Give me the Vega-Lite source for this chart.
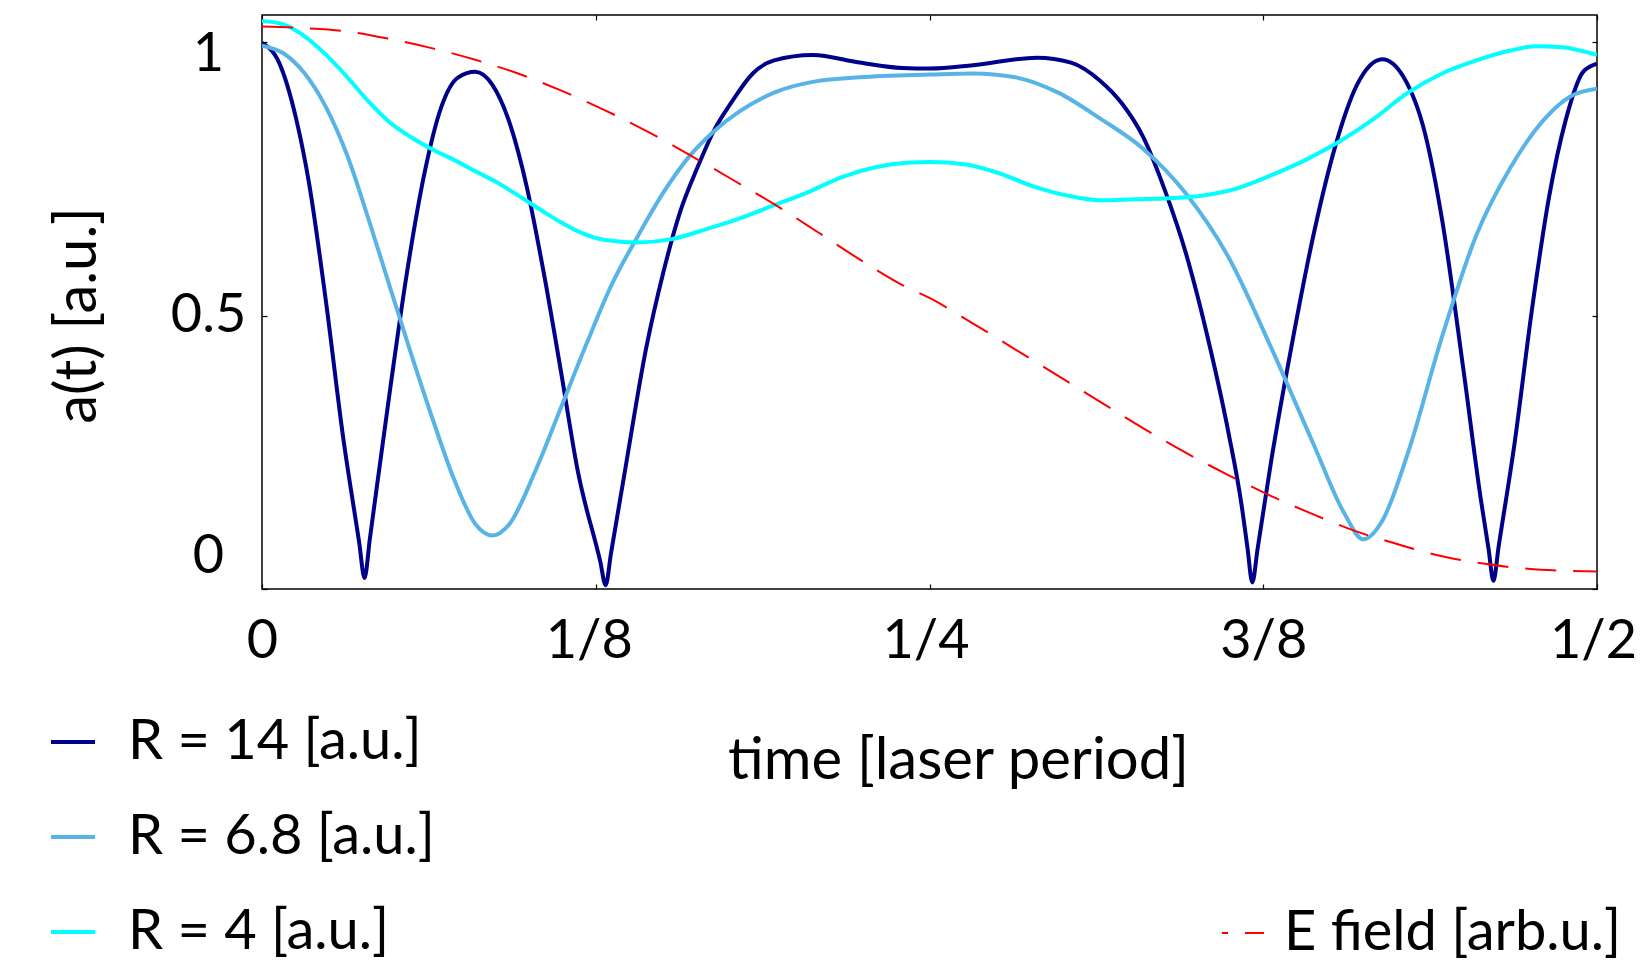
{
  "$schema": "https://vega.github.io/schema/vega-lite/v6.json",
  "width": 1335,
  "height": 574,
  "autosize": {"type": "none"},
  "padding": {"left": 262, "top": 15, "right": 47, "bottom": 391},
  "background": "white",
  "config": {
    "view": {"stroke": "black", "strokeWidth": 1.5},
    "font": "Lato",
    "axis": {
      "grid": false,
      "domain": false,
      "labelFont": "Lato",
      "titleFont": "Lato",
      "labelColor": "black",
      "titleColor": "black",
      "tickColor": "black",
      "tickSize": -5,
      "tickWidth": 1.2,
      "labelFontSize": 54,
      "titleFontSize": 58,
      "titleFontWeight": "normal"
    },
    "legend": {
      "labelFont": "Lato",
      "labelFontSize": 56,
      "labelColor": "black",
      "labelLimit": 0,
      "padding": 0,
      "symbolType": "stroke"
    }
  },
  "datasets": {
    "R": [
      {"series": "R = 14 [a.u.]", "t": 0, "value": 0.999},
      {"series": "R = 14 [a.u.]", "t": 0.0064, "value": 0.963},
      {"series": "R = 14 [a.u.]", "t": 0.0128, "value": 0.86},
      {"series": "R = 14 [a.u.]", "t": 0.0176, "value": 0.743},
      {"series": "R = 14 [a.u.]", "t": 0.024, "value": 0.524},
      {"series": "R = 14 [a.u.]", "t": 0.0304, "value": 0.277},
      {"series": "R = 14 [a.u.]", "t": 0.0364, "value": 0.085},
      {"series": "R = 14 [a.u.]", "t": 0.0384, "value": 0.02},
      {"series": "R = 14 [a.u.]", "t": 0.0404, "value": 0.092},
      {"series": "R = 14 [a.u.]", "t": 0.048, "value": 0.366},
      {"series": "R = 14 [a.u.]", "t": 0.0543, "value": 0.579},
      {"series": "R = 14 [a.u.]", "t": 0.0607, "value": 0.757},
      {"series": "R = 14 [a.u.]", "t": 0.0671, "value": 0.881},
      {"series": "R = 14 [a.u.]", "t": 0.0735, "value": 0.936},
      {"series": "R = 14 [a.u.]", "t": 0.0799, "value": 0.946},
      {"series": "R = 14 [a.u.]", "t": 0.0863, "value": 0.922},
      {"series": "R = 14 [a.u.]", "t": 0.0927, "value": 0.853},
      {"series": "R = 14 [a.u.]", "t": 0.0991, "value": 0.737},
      {"series": "R = 14 [a.u.]", "t": 0.1055, "value": 0.579},
      {"series": "R = 14 [a.u.]", "t": 0.1119, "value": 0.4},
      {"series": "R = 14 [a.u.]", "t": 0.1183, "value": 0.215},
      {"series": "R = 14 [a.u.]", "t": 0.1267, "value": 0.05},
      {"series": "R = 14 [a.u.]", "t": 0.1287, "value": 0.007},
      {"series": "R = 14 [a.u.]", "t": 0.1307, "value": 0.065},
      {"series": "R = 14 [a.u.]", "t": 0.1359, "value": 0.215},
      {"series": "R = 14 [a.u.]", "t": 0.1439, "value": 0.441},
      {"series": "R = 14 [a.u.]", "t": 0.1503, "value": 0.579},
      {"series": "R = 14 [a.u.]", "t": 0.1566, "value": 0.69},
      {"series": "R = 14 [a.u.]", "t": 0.163, "value": 0.77},
      {"series": "R = 14 [a.u.]", "t": 0.1694, "value": 0.84},
      {"series": "R = 14 [a.u.]", "t": 0.1758, "value": 0.89},
      {"series": "R = 14 [a.u.]", "t": 0.1838, "value": 0.943},
      {"series": "R = 14 [a.u.]", "t": 0.1918, "value": 0.967},
      {"series": "R = 14 [a.u.]", "t": 0.2062, "value": 0.977},
      {"series": "R = 14 [a.u.]", "t": 0.2238, "value": 0.963},
      {"series": "R = 14 [a.u.]", "t": 0.2398, "value": 0.953},
      {"series": "R = 14 [a.u.]", "t": 0.2502, "value": 0.952},
      {"series": "R = 14 [a.u.]", "t": 0.2662, "value": 0.958},
      {"series": "R = 14 [a.u.]", "t": 0.2902, "value": 0.972},
      {"series": "R = 14 [a.u.]", "t": 0.303, "value": 0.963},
      {"series": "R = 14 [a.u.]", "t": 0.3141, "value": 0.929},
      {"series": "R = 14 [a.u.]", "t": 0.3221, "value": 0.888},
      {"series": "R = 14 [a.u.]", "t": 0.3301, "value": 0.826},
      {"series": "R = 14 [a.u.]", "t": 0.3381, "value": 0.73},
      {"series": "R = 14 [a.u.]", "t": 0.3461, "value": 0.613},
      {"series": "R = 14 [a.u.]", "t": 0.3541, "value": 0.462},
      {"series": "R = 14 [a.u.]", "t": 0.3621, "value": 0.283},
      {"series": "R = 14 [a.u.]", "t": 0.3669, "value": 0.153},
      {"series": "R = 14 [a.u.]", "t": 0.3691, "value": 0.075},
      {"series": "R = 14 [a.u.]", "t": 0.3709, "value": 0.012},
      {"series": "R = 14 [a.u.]", "t": 0.3729, "value": 0.074},
      {"series": "R = 14 [a.u.]", "t": 0.378, "value": 0.235},
      {"series": "R = 14 [a.u.]", "t": 0.386, "value": 0.455},
      {"series": "R = 14 [a.u.]", "t": 0.3941, "value": 0.654},
      {"series": "R = 14 [a.u.]", "t": 0.4021, "value": 0.812},
      {"series": "R = 14 [a.u.]", "t": 0.4101, "value": 0.922},
      {"series": "R = 14 [a.u.]", "t": 0.4196, "value": 0.969},
      {"series": "R = 14 [a.u.]", "t": 0.4276, "value": 0.936},
      {"series": "R = 14 [a.u.]", "t": 0.4356, "value": 0.833},
      {"series": "R = 14 [a.u.]", "t": 0.442, "value": 0.675},
      {"series": "R = 14 [a.u.]", "t": 0.45, "value": 0.4},
      {"series": "R = 14 [a.u.]", "t": 0.4564, "value": 0.167},
      {"series": "R = 14 [a.u.]", "t": 0.4594, "value": 0.073},
      {"series": "R = 14 [a.u.]", "t": 0.4612, "value": 0.015},
      {"series": "R = 14 [a.u.]", "t": 0.4632, "value": 0.079},
      {"series": "R = 14 [a.u.]", "t": 0.4692, "value": 0.269},
      {"series": "R = 14 [a.u.]", "t": 0.4756, "value": 0.51},
      {"series": "R = 14 [a.u.]", "t": 0.482, "value": 0.716},
      {"series": "R = 14 [a.u.]", "t": 0.4884, "value": 0.86},
      {"series": "R = 14 [a.u.]", "t": 0.4948, "value": 0.946},
      {"series": "R = 14 [a.u.]", "t": 0.5, "value": 0.961},

      {"series": "R = 6.8 [a.u.]", "t": 0, "value": 0.994},
      {"series": "R = 6.8 [a.u.]", "t": 0.008, "value": 0.98},
      {"series": "R = 6.8 [a.u.]", "t": 0.016, "value": 0.943},
      {"series": "R = 6.8 [a.u.]", "t": 0.024, "value": 0.881},
      {"series": "R = 6.8 [a.u.]", "t": 0.032, "value": 0.792},
      {"series": "R = 6.8 [a.u.]", "t": 0.04, "value": 0.675},
      {"series": "R = 6.8 [a.u.]", "t": 0.048, "value": 0.551},
      {"series": "R = 6.8 [a.u.]", "t": 0.056, "value": 0.428},
      {"series": "R = 6.8 [a.u.]", "t": 0.0639, "value": 0.311},
      {"series": "R = 6.8 [a.u.]", "t": 0.0719, "value": 0.201},
      {"series": "R = 6.8 [a.u.]", "t": 0.0799, "value": 0.119},
      {"series": "R = 6.8 [a.u.]", "t": 0.0863, "value": 0.098},
      {"series": "R = 6.8 [a.u.]", "t": 0.0927, "value": 0.119},
      {"series": "R = 6.8 [a.u.]", "t": 0.1023, "value": 0.215},
      {"series": "R = 6.8 [a.u.]", "t": 0.1119, "value": 0.331},
      {"series": "R = 6.8 [a.u.]", "t": 0.1215, "value": 0.448},
      {"series": "R = 6.8 [a.u.]", "t": 0.1311, "value": 0.558},
      {"series": "R = 6.8 [a.u.]", "t": 0.1407, "value": 0.645},
      {"series": "R = 6.8 [a.u.]", "t": 0.1503, "value": 0.725},
      {"series": "R = 6.8 [a.u.]", "t": 0.1598, "value": 0.79},
      {"series": "R = 6.8 [a.u.]", "t": 0.1694, "value": 0.838},
      {"series": "R = 6.8 [a.u.]", "t": 0.179, "value": 0.874},
      {"series": "R = 6.8 [a.u.]", "t": 0.1918, "value": 0.908},
      {"series": "R = 6.8 [a.u.]", "t": 0.2078, "value": 0.929},
      {"series": "R = 6.8 [a.u.]", "t": 0.2238, "value": 0.936},
      {"series": "R = 6.8 [a.u.]", "t": 0.2502, "value": 0.941},
      {"series": "R = 6.8 [a.u.]", "t": 0.2662, "value": 0.943},
      {"series": "R = 6.8 [a.u.]", "t": 0.2822, "value": 0.936},
      {"series": "R = 6.8 [a.u.]", "t": 0.2982, "value": 0.908},
      {"series": "R = 6.8 [a.u.]", "t": 0.3141, "value": 0.86},
      {"series": "R = 6.8 [a.u.]", "t": 0.3301, "value": 0.805},
      {"series": "R = 6.8 [a.u.]", "t": 0.3461, "value": 0.723},
      {"series": "R = 6.8 [a.u.]", "t": 0.3621, "value": 0.606},
      {"series": "R = 6.8 [a.u.]", "t": 0.378, "value": 0.441},
      {"series": "R = 6.8 [a.u.]", "t": 0.394, "value": 0.263},
      {"series": "R = 6.8 [a.u.]", "t": 0.4053, "value": 0.139},
      {"series": "R = 6.8 [a.u.]", "t": 0.4124, "value": 0.091},
      {"series": "R = 6.8 [a.u.]", "t": 0.4196, "value": 0.125},
      {"series": "R = 6.8 [a.u.]", "t": 0.4292, "value": 0.249},
      {"series": "R = 6.8 [a.u.]", "t": 0.442, "value": 0.462},
      {"series": "R = 6.8 [a.u.]", "t": 0.4548, "value": 0.647},
      {"series": "R = 6.8 [a.u.]", "t": 0.4676, "value": 0.771},
      {"series": "R = 6.8 [a.u.]", "t": 0.4804, "value": 0.86},
      {"series": "R = 6.8 [a.u.]", "t": 0.49, "value": 0.901},
      {"series": "R = 6.8 [a.u.]", "t": 0.5, "value": 0.915},

      {"series": "R = 4 [a.u.]", "t": 0, "value": 1.039},
      {"series": "R = 4 [a.u.]", "t": 0.008, "value": 1.033},
      {"series": "R = 4 [a.u.]", "t": 0.016, "value": 1.011},
      {"series": "R = 4 [a.u.]", "t": 0.024, "value": 0.977},
      {"series": "R = 4 [a.u.]", "t": 0.032, "value": 0.936},
      {"series": "R = 4 [a.u.]", "t": 0.04, "value": 0.891},
      {"series": "R = 4 [a.u.]", "t": 0.048, "value": 0.853},
      {"series": "R = 4 [a.u.]", "t": 0.056, "value": 0.826},
      {"series": "R = 4 [a.u.]", "t": 0.0639, "value": 0.804},
      {"series": "R = 4 [a.u.]", "t": 0.0719, "value": 0.785},
      {"series": "R = 4 [a.u.]", "t": 0.0799, "value": 0.764},
      {"series": "R = 4 [a.u.]", "t": 0.0879, "value": 0.744},
      {"series": "R = 4 [a.u.]", "t": 0.0959, "value": 0.72},
      {"series": "R = 4 [a.u.]", "t": 0.1039, "value": 0.695},
      {"series": "R = 4 [a.u.]", "t": 0.1119, "value": 0.671},
      {"series": "R = 4 [a.u.]", "t": 0.1199, "value": 0.651},
      {"series": "R = 4 [a.u.]", "t": 0.1279, "value": 0.639},
      {"series": "R = 4 [a.u.]", "t": 0.1407, "value": 0.634},
      {"series": "R = 4 [a.u.]", "t": 0.1535, "value": 0.64},
      {"series": "R = 4 [a.u.]", "t": 0.1662, "value": 0.658},
      {"series": "R = 4 [a.u.]", "t": 0.179, "value": 0.678},
      {"series": "R = 4 [a.u.]", "t": 0.1918, "value": 0.702},
      {"series": "R = 4 [a.u.]", "t": 0.2046, "value": 0.726},
      {"series": "R = 4 [a.u.]", "t": 0.2174, "value": 0.754},
      {"series": "R = 4 [a.u.]", "t": 0.2302, "value": 0.772},
      {"series": "R = 4 [a.u.]", "t": 0.243, "value": 0.78},
      {"series": "R = 4 [a.u.]", "t": 0.2502, "value": 0.781},
      {"series": "R = 4 [a.u.]", "t": 0.263, "value": 0.777},
      {"series": "R = 4 [a.u.]", "t": 0.2758, "value": 0.761},
      {"series": "R = 4 [a.u.]", "t": 0.2886, "value": 0.737},
      {"series": "R = 4 [a.u.]", "t": 0.3013, "value": 0.72},
      {"series": "R = 4 [a.u.]", "t": 0.3141, "value": 0.711},
      {"series": "R = 4 [a.u.]", "t": 0.3269, "value": 0.713},
      {"series": "R = 4 [a.u.]", "t": 0.3397, "value": 0.715},
      {"series": "R = 4 [a.u.]", "t": 0.3525, "value": 0.72},
      {"series": "R = 4 [a.u.]", "t": 0.3653, "value": 0.733},
      {"series": "R = 4 [a.u.]", "t": 0.3781, "value": 0.757},
      {"series": "R = 4 [a.u.]", "t": 0.3909, "value": 0.785},
      {"series": "R = 4 [a.u.]", "t": 0.4037, "value": 0.819},
      {"series": "R = 4 [a.u.]", "t": 0.4164, "value": 0.86},
      {"series": "R = 4 [a.u.]", "t": 0.4292, "value": 0.908},
      {"series": "R = 4 [a.u.]", "t": 0.442, "value": 0.943},
      {"series": "R = 4 [a.u.]", "t": 0.4548, "value": 0.967},
      {"series": "R = 4 [a.u.]", "t": 0.4676, "value": 0.985},
      {"series": "R = 4 [a.u.]", "t": 0.4772, "value": 0.993},
      {"series": "R = 4 [a.u.]", "t": 0.4868, "value": 0.991},
      {"series": "R = 4 [a.u.]", "t": 0.5, "value": 0.977}
    ],
    "E": [
      {"series": "E field [arb.u.]", "t": 0, "value": 1.029},
      {"series": "E field [arb.u.]", "t": 0.016, "value": 1.026},
      {"series": "E field [arb.u.]", "t": 0.032, "value": 1.02},
      {"series": "E field [arb.u.]", "t": 0.048, "value": 1.006},
      {"series": "E field [arb.u.]", "t": 0.0639, "value": 0.989},
      {"series": "E field [arb.u.]", "t": 0.0799, "value": 0.968},
      {"series": "E field [arb.u.]", "t": 0.0959, "value": 0.943},
      {"series": "E field [arb.u.]", "t": 0.1119, "value": 0.912},
      {"series": "E field [arb.u.]", "t": 0.1279, "value": 0.877},
      {"series": "E field [arb.u.]", "t": 0.1439, "value": 0.838},
      {"series": "E field [arb.u.]", "t": 0.1598, "value": 0.795},
      {"series": "E field [arb.u.]", "t": 0.1758, "value": 0.75},
      {"series": "E field [arb.u.]", "t": 0.1918, "value": 0.704},
      {"series": "E field [arb.u.]", "t": 0.2078, "value": 0.654},
      {"series": "E field [arb.u.]", "t": 0.2238, "value": 0.603},
      {"series": "E field [arb.u.]", "t": 0.2398, "value": 0.556},
      {"series": "E field [arb.u.]", "t": 0.2502, "value": 0.532},
      {"series": "E field [arb.u.]", "t": 0.2662, "value": 0.486},
      {"series": "E field [arb.u.]", "t": 0.2822, "value": 0.438},
      {"series": "E field [arb.u.]", "t": 0.2982, "value": 0.39},
      {"series": "E field [arb.u.]", "t": 0.3141, "value": 0.342},
      {"series": "E field [arb.u.]", "t": 0.3301, "value": 0.294},
      {"series": "E field [arb.u.]", "t": 0.3461, "value": 0.249},
      {"series": "E field [arb.u.]", "t": 0.3621, "value": 0.208},
      {"series": "E field [arb.u.]", "t": 0.378, "value": 0.17},
      {"series": "E field [arb.u.]", "t": 0.394, "value": 0.136},
      {"series": "E field [arb.u.]", "t": 0.4101, "value": 0.105},
      {"series": "E field [arb.u.]", "t": 0.426, "value": 0.081},
      {"series": "E field [arb.u.]", "t": 0.442, "value": 0.06},
      {"series": "E field [arb.u.]", "t": 0.458, "value": 0.046},
      {"series": "E field [arb.u.]", "t": 0.474, "value": 0.037},
      {"series": "E field [arb.u.]", "t": 0.49, "value": 0.033},
      {"series": "E field [arb.u.]", "t": 0.5, "value": 0.032}
    ]
  },
  "layer": [
    {
      "data": {"name": "R"},
      "mark": {"type": "line", "interpolate": "monotone", "strokeWidth": 4, "clip": true},
      "encoding": {
        "x": {
          "field": "t",
          "type": "quantitative",
          "scale": {"domain": [0, 0.5], "nice": false, "zero": false},
          "axis": {
            "orient": "bottom",
            "values": [0, 0.125, 0.25, 0.375, 0.5],
            "labelExpr": "datum.value == 0 ? '0' : datum.value == 0.125 ? '1/8' : datum.value == 0.25 ? '1/4' : datum.value == 0.375 ? '3/8' : '1/2'",
            "labelPadding": 30,
            "labelFlush": false,
            "labelOverlap": false,
            "labelOffset": {"condition": [{"test": "datum.value == 0.125", "value": -7}, {"test": "datum.value == 0.25", "value": -4}, {"test": "datum.value == 0.5", "value": -4}], "value": 0},
            "title": "time [laser period]",
            "titleX": 696,
            "titleY": 172,
            "titleAlign": "center",
            "titleBaseline": "middle"
          }
        },
        "y": {
          "field": "value",
          "type": "quantitative",
          "scale": {"domain": [0, 1.05], "nice": false, "zero": false},
          "axis": {
            "orient": "left",
            "values": [0, 0.5, 1],
            "labelExpr": "datum.value == 0.5 ? '0.5' : datum.value == 1 ? '1' : '0'",
            "labelAlign": "center",
            "labelBaseline": "middle",
            "labelPadding": 59,
            "labelFlush": false,
            "labelOverlap": false,
            "labelOffset": {"condition": [{"test": "datum.value == 1", "value": 12}, {"test": "datum.value == 0", "value": -33}], "value": 0},
            "title": "a(t) [a.u.]",
            "titleX": -184,
            "titleY": 300,
            "titleAngle": 270,
            "titleAlign": "center",
            "titleBaseline": "middle"
          }
        },
        "color": {
          "field": "series",
          "type": "nominal",
          "sort": ["R = 14 [a.u.]", "R = 6.8 [a.u.]", "R = 4 [a.u.]"],
          "scale": {
            "domain": ["R = 14 [a.u.]", "R = 6.8 [a.u.]", "R = 4 [a.u.]"],
            "range": ["#00008B", "#58B4E6", "#00FFFF"]
          },
          "legend": {
            "orient": "none",
            "legendX": -217,
            "legendY": 699,
            "title": null,
            "symbolType": "stroke",
            "symbolSize": 1936,
            "symbolStrokeWidth": 4,
            "labelOffset": 27,
            "rowPadding": 39
          }
        }
      }
    },
    {
      "data": {"name": "E"},
      "mark": {"type": "line", "interpolate": "monotone", "color": "#FF0000", "strokeWidth": 2, "clip": true},
      "encoding": {
        "x": {
          "field": "t",
          "type": "quantitative",
          "axis": {"orient": "top", "values": [0, 0.125, 0.25, 0.375, 0.5], "labels": false, "title": null}
        },
        "y": {
          "field": "value",
          "type": "quantitative",
          "axis": {"orient": "right", "values": [0, 0.5, 1], "labels": false, "title": null}
        },
        "strokeDash": {
          "field": "series",
          "type": "nominal",
          "scale": {"domain": ["E field [arb.u.]"], "range": [[31, 17]]},
          "legend": {
            "orient": "none",
            "legendX": 953,
            "legendY": 890,
            "title": null,
            "symbolType": "stroke",
            "symbolSize": 1764,
            "symbolStrokeColor": "#FF0000",
            "symbolStrokeWidth": 2,
            "symbolDashOffset": 25,
            "labelOffset": 13
          }
        }
      }
    }
  ],
  "resolve": {"axis": {"x": "independent", "y": "independent"}}
}
